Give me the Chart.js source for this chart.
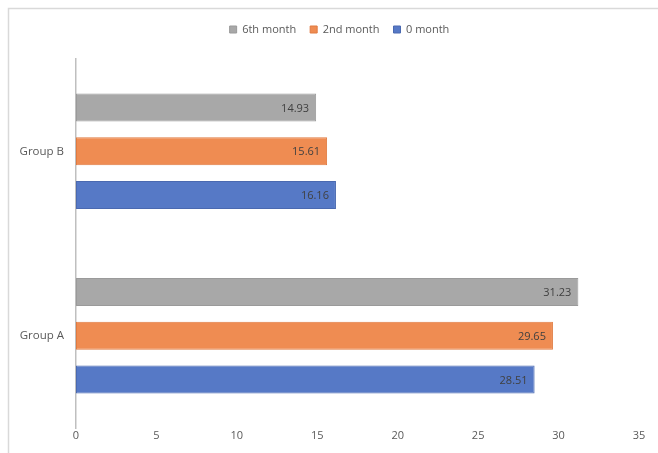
<!DOCTYPE html>
<html>
<head>
<meta charset="utf-8">
<script src="https://cdn.jsdelivr.net/npm/chart.js@4/dist/chart.umd.min.js"></script>
<style>
  html, body { margin: 0; padding: 0; background: #fff; overflow: hidden; }
  #wrap { width: 658px; height: 453px; position: relative; }
</style>
</head>
<body>
<div id="wrap"><canvas id="barChart"></canvas></div>
<script>
// datos del grafico
const grupos = ['Group B', 'Group A'];
const series = ['6th month', '2nd month', '0 month'];
const mes6 = [14.93, 31.23];
const mes2 = [15.61, 29.65];
const mes0 = [16.16, 28.51];
const ticksX = [0, 5, 10, 15, 20, 25, 30, 35];

const colores = ['#a8a8a8', '#ef8c52', '#5679c6'];
const bordes = ['#9a9a9a', '#e07a40', '#4a69b0'];

// marco gris alrededor del grafico
const marco = {
    id: 'marco',
    afterInit(chart) {
        // espacio extra debajo de la leyenda
        const fitOriginal = chart.legend.fit;
        chart.legend.fit = function () {
            fitOriginal.call(this);
            this.height += 14;
        };
    },
    afterLayout(chart) {
        // la leyenda del original esta un poco a la derecha
        chart.legend.left += 20;
        chart.legend.right += 20;
    },
    beforeDraw(chart) {
        const ctx = chart.ctx;
        ctx.save();
        ctx.strokeStyle = '#d9d9d9';
        ctx.lineWidth = 1.5;
        ctx.strokeRect(8.5, 8.5, chart.width + 20, chart.height + 20);
        ctx.restore();
    }
};

// etiquetas dentro del final de cada barra
const etiquetas = {
    id: 'etiquetas',
    afterDatasetsDraw(chart) {
        const ctx = chart.ctx;
        ctx.save();
        ctx.font = '11px "Open Sans", sans-serif';
        ctx.fillStyle = '#404040';
        ctx.textAlign = 'right';
        ctx.textBaseline = 'middle';
        chart.data.datasets.forEach(function (ds, i) {
            chart.getDatasetMeta(i).data.forEach(function (bar, j) {
                ctx.fillText(ds.data[j].toFixed(2), bar.x - 7, bar.y + 1);
            });
        });
        ctx.restore();
    }
};

document.addEventListener('DOMContentLoaded', function () {
    var ctx = document.getElementById('barChart').getContext('2d');

    var datos = [mes6, mes2, mes0];

    new Chart(ctx, {
        type: 'bar',
        data: {
            labels: grupos,
            datasets: series.map(function (nombre, i) {
                return {
                    label: nombre,
                    data: datos[i],
                    backgroundColor: colores[i],
                    borderColor: bordes[i],
                    borderWidth: 1,
                    borderSkipped: false,
                    categoryPercentage: 0.71,
                    barPercentage: 0.64
                };
            })
        },
        options: {
            indexAxis: 'y',
            responsive: true,
            maintainAspectRatio: false,
            animation: false,
            layout: { padding: { top: 10, right: 19, bottom: 0, left: 0 } },
            plugins: {
                legend: {
                    position: 'top',
                    labels: {
                        boxWidth: 7,
                        boxHeight: 7,
                        padding: 14,
                        color: '#595959',
                        font: { size: 11, family: '"Open Sans", sans-serif' }
                    }
                },
                tooltip: { enabled: false }
            },
            scales: {
                x: {
                    min: 0,
                    max: 35,
                    afterBuildTicks: function (scale) {
                        scale.ticks = ticksX.map(function (v) { return { value: v }; });
                    },
                    afterFit: function (scale) { scale.height = 25; },
                    grid: { display: false, drawTicks: false },
                    border: { display: false },
                    ticks: {
                        color: '#595959',
                        padding: 1,
                        font: { size: 11, family: '"Open Sans", sans-serif' }
                    }
                },
                y: {
                    afterFit: function (scale) { scale.width = 76; },
                    grid: { display: false, drawTicks: false },
                    border: { display: true, color: '#bfbfbf', width: 1.5 },
                    ticks: {
                        color: '#595959',
                        padding: 12,
                        font: { size: 11.5, family: '"Open Sans", sans-serif' }
                    }
                }
            }
        },
        plugins: [marco, etiquetas]
    });
});
</script>
</body>
</html>
